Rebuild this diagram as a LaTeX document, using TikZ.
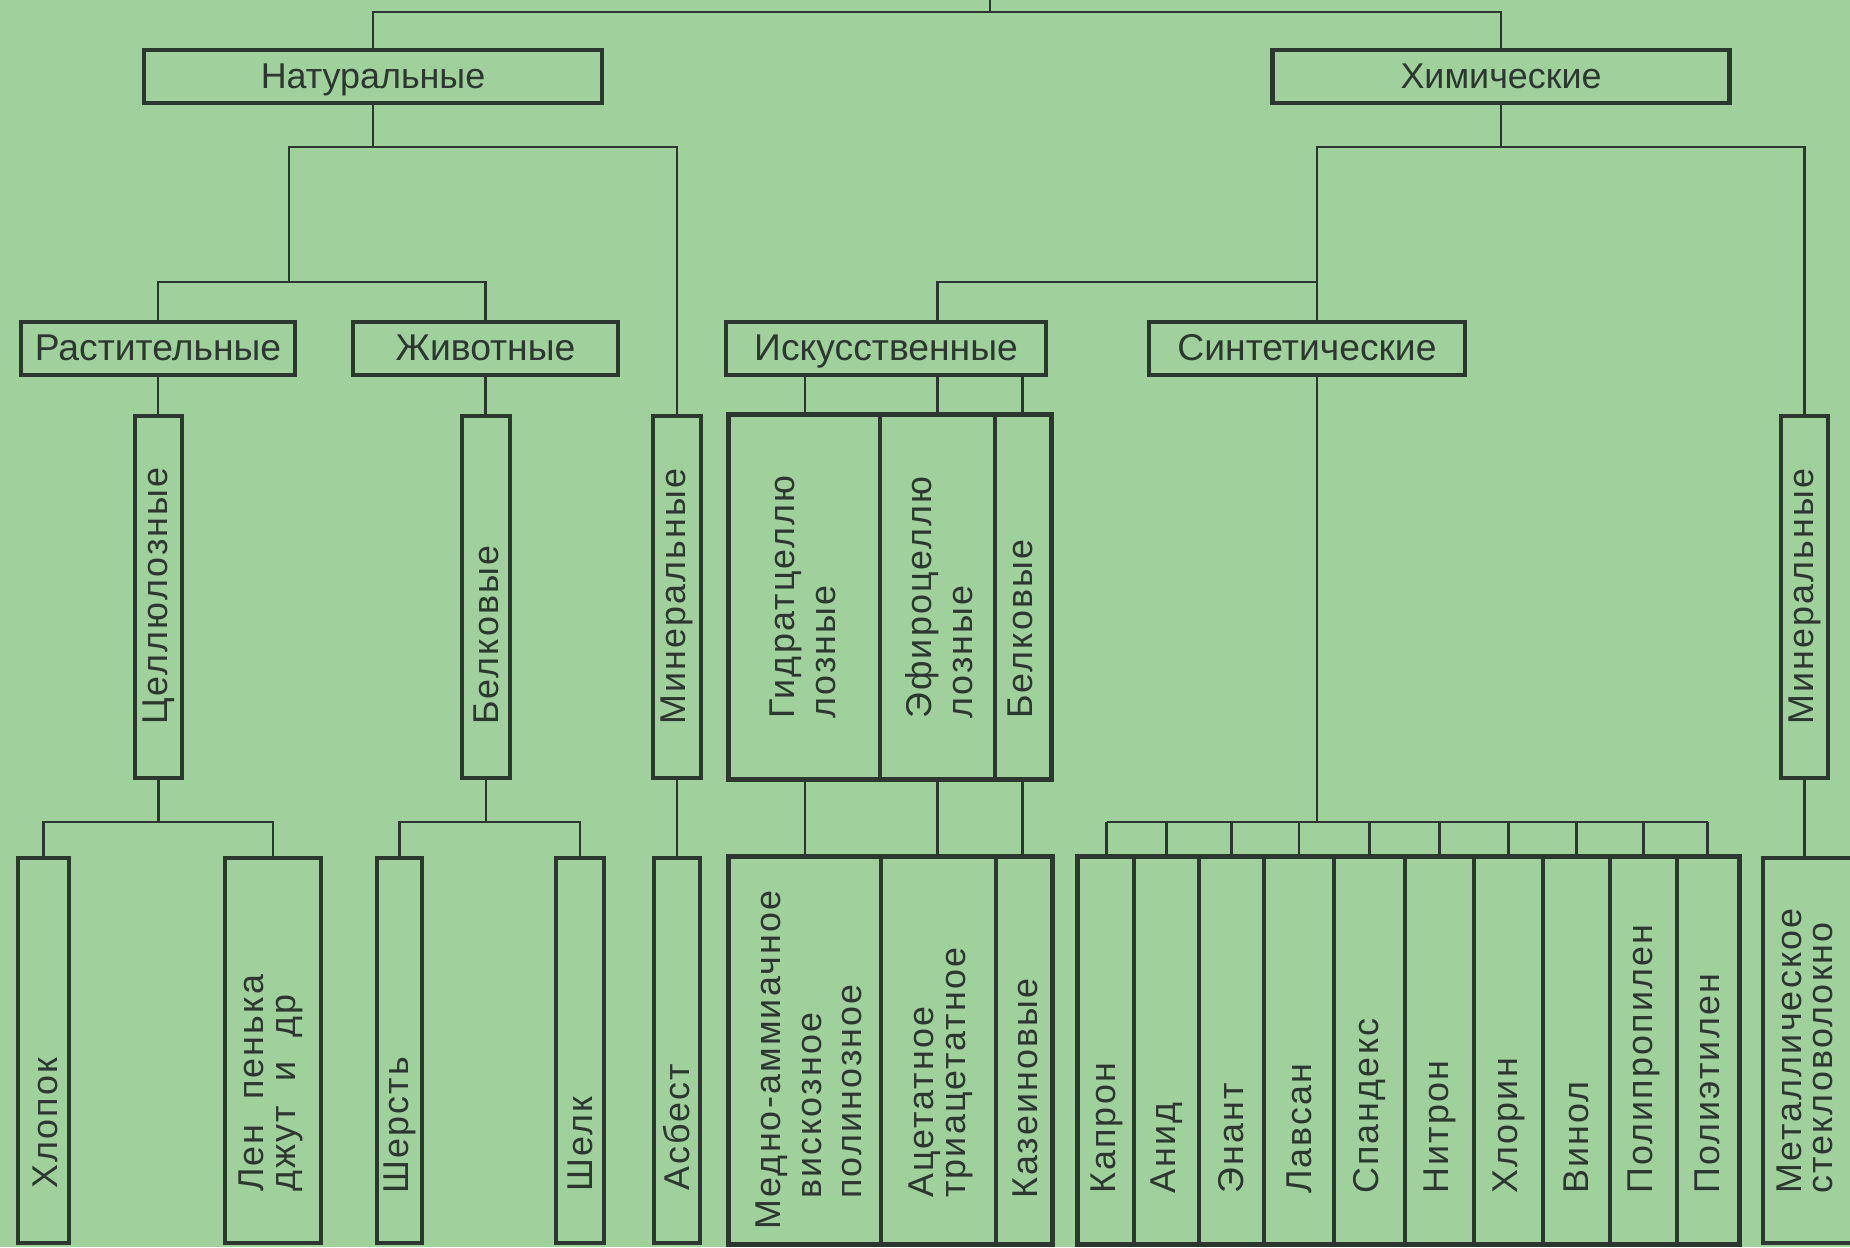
\documentclass[tikz,border=0pt]{standalone}
\usepackage{fontspec}
\setmainfont{Liberation Sans}
\newfontfamily\vfont[LetterSpace=6]{Liberation Sans}
\definecolor{paper}{HTML}{A0D09C}
\definecolor{ink}{HTML}{2C382F}

\begin{document}
\begin{tikzpicture}[x=0.01cm, y=-0.01cm, line width=0.7pt, draw=ink,
    box/.style = {draw=ink, line width=1.3pt, inner sep=0pt, text=ink},
    lvlone/.style = {box, minimum height=0.53cm, text height=1.6ex, text depth=0.3ex,
                     font=\fontsize{10.2}{12}\selectfont},
    lvltwo/.style = {box, minimum height=0.53cm, text height=1.6ex, text depth=0.3ex,
                     font=\fontsize{10.6}{12}\selectfont},
    bar/.style = {box, minimum height=3.62cm},
    leaf/.style = {box, minimum height=3.85cm},
    tabcol/.style = {draw=ink, line width=0.85pt, inner sep=0pt},
    vtext/.style = {rotate=90, anchor=west, align=left, inner sep=0pt, text=ink,
                    font=\vfont\fontsize{10.2}{11.5}\selectfont},
    tight/.style = {font=\vfont\fontsize{10.2}{9}\selectfont}]

\useasboundingbox (0,0) rectangle (1850,1247);
\fill[paper] (0,0) rectangle (1850,1247);

% first level
\node[lvlone, minimum width=4.58cm] (nat) at (373,76.5) {Натуральные};
\node[lvlone, minimum width=4.57cm] (chem) at (1501,76.5) {Химические};

% second level
\node[lvltwo, minimum width=2.74cm] (plant) at (158,348.5) {Растительные};
\node[lvltwo, minimum width=2.65cm] (anim) at (485.5,348.5) {Животные};
\node[lvltwo, minimum width=3.20cm] (art) at (886,348.5) {Искусственные};
\node[lvltwo, minimum width=3.16cm] (synth) at (1307,348.5) {Синтетические};

% third level
\node[bar, minimum width=0.47cm] (cell) at (158.5,597) {};
\node[bar, minimum width=0.48cm] (prot) at (486,597) {};
\node[bar, minimum width=0.48cm] (minL) at (677,597) {};
\node[bar, minimum width=0.47cm] (minR) at (1804.5,597) {};
\node[vtext] (tcell) at (158.5,726) {Целлюлозные};
\node[vtext] (tprot) at (486,726) {Белковые};
\node[vtext] (tminL) at (677,726) {Минеральные};
\node[vtext] (tminR) at (1804.5,726) {Минеральные};

\node[tabcol, minimum width=1.50cm, minimum height=3.62cm] (artA) at (805,597) {};
\node[tabcol, minimum width=1.15cm, minimum height=3.62cm] (artB) at (937.5,597) {};
\node[tabcol, minimum width=0.55cm, minimum height=3.62cm] (artC) at (1022.5,597) {};
\draw[line width=1.3pt] (artA.north west) rectangle (artC.south east);
\node[vtext] (tartA) at (803,720) {Гидратцеллю\\лозные};
\node[vtext] (tartB) at (939,720) {Эфироцеллю\\лозные};
\node[vtext] (tartC) at (1020,720) {Белковые};

% fourth level
\node[leaf, minimum width=0.51cm] (cotton) at (43.5,1050.5) {};
\node[leaf, minimum width=0.96cm] (flax) at (273,1050.5) {};
\node[leaf, minimum width=0.45cm] (wool) at (399.5,1050.5) {};
\node[leaf, minimum width=0.48cm] (silk) at (580,1050.5) {};
\node[leaf, minimum width=0.46cm] (asb) at (677,1050.5) {};
\node[leaf, minimum width=1.07cm] (metal) at (1816.5,1050.5) {};
\node[vtext] (tcotton) at (45,1190) {Хлопок};
\node[vtext, tight] (tflax) at (271,1193) {Лен\ \ пенька\\джут\ \ и\ \ др};
\node[vtext] (twool) at (399.5,1195) {Шерсть};
\node[vtext] (tsilk) at (580,1193) {Шелк};
\node[vtext] (tasb) at (677,1192) {Асбест};
\node[vtext, tight] (tmetal) at (1805,1195) {Металлическое\\стекловолокно};

\node[tabcol, minimum width=1.51cm, minimum height=3.85cm] (viscA) at (805.5,1050.5) {};
\node[tabcol, minimum width=1.15cm, minimum height=3.85cm] (viscB) at (938.5,1050.5) {};
\node[tabcol, minimum width=0.55cm, minimum height=3.85cm] (viscC) at (1023.5,1050.5) {};
\draw[line width=1.3pt] (viscA.north west) rectangle (viscC.south east);
\node[vtext] (tviscA) at (809,1231)
  {Медно-аммиачное\\\hspace{0.31cm}вискозное\\\hspace{0.31cm}полинозное};
\node[vtext, tight] (tviscB) at (941,1199) {Ацетатное\\триацетатное};
\node[vtext] (tviscC) at (1025,1200) {Казеиновые};

\foreach \i/\l/\r/\name in {1/1079/1134/Капрон, 2/1134/1199/Анид, 3/1199/1264/Энант,
    4/1264/1334/Лавсан, 5/1334/1405/Спандекс, 6/1405/1474/Нитрон, 7/1474/1543/Хлорин,
    8/1543/1610/Винол, 9/1610/1677/Полипропилен, 10/1677/1738/Полиэтилен} {
  \pgfmathsetmacro\w{(\r-\l)/100}
  \pgfmathsetmacro\c{(\l+\r)/2}
  \node[tabcol, minimum width=\w cm, minimum height=3.85cm] (s\i) at (\c,1050.5) {};
  \node[vtext] (ts\i) at (\c,1195) {\name};
}
\draw[line width=1.3pt] (s1.north west) rectangle (s10.south east);

% connectors
\coordinate (root) at (990,0);
\coordinate (top) at (990,12);
\draw (top) -- (root);
\draw (nat.north) |- (top) -| (chem.north);

\coordinate (n1) at (289,147);
\coordinate (n2) at (289,282);
\draw (nat.south) -- (nat.south |- n1);
\draw (n2) -- (n1) -| (minL.north);
\draw (plant.north) |- (n2) -| (anim.north);
\draw (plant.south) -- (plant.south |- cell.north);
\draw (anim.south) -- (anim.south |- prot.north);

\coordinate (c1) at (1317,147);
\coordinate (c2) at (1317,282);
\coordinate (sb) at (1317,822);
\draw (chem.south) -- (chem.south |- c1);
\draw (c1 |- synth.north) -- (c1) -| (minR.north);
\draw (c2) -| (artB.north |- art.north);
\draw (c1 |- synth.south) -- (sb);

\draw (artA.north |- art.south) -- (artA.north);
\draw (artB.north |- art.south) -- (artB.north);
\draw (artC.north |- art.south) -- (artC.north);
\draw (artA.south) -- (artA.south |- viscA.north);
\draw (artB.south) -- (artB.south |- viscB.north);
\draw (artC.south) -- (artC.south |- viscC.north);

\coordinate (cb) at (158.5,822);
\coordinate (ab) at (486,822);
\draw (cell.south) -- (cb);
\draw (cotton.north) |- (cb) -| (flax.north);
\draw (prot.south) -- (ab);
\draw (wool.north) |- (ab) -| (silk.north);
\draw (minL.south) -- (asb.north);
\draw (minR.south) -- (minR.south |- metal.north);

\draw (s1.north |- sb) -- (s10.north |- sb);
\foreach \i in {1,...,10} \draw (s\i.north) -- (s\i.north |- sb);
\end{tikzpicture}
\end{document}
